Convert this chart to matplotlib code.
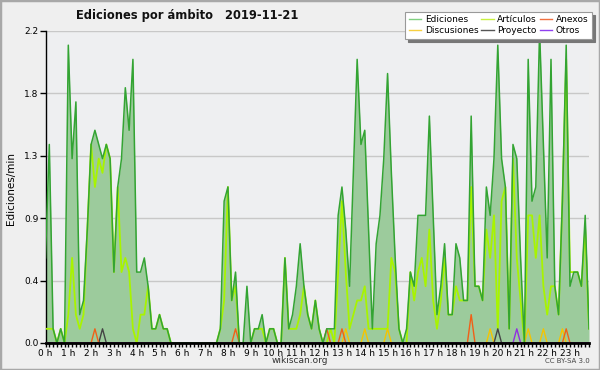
import numpy as np
import matplotlib
matplotlib.use("Agg")
import matplotlib.pyplot as plt
from matplotlib.patches import Rectangle
from matplotlib.lines import Line2D
from matplotlib.ticker import FixedLocator, MultipleLocator

# 10-minute bins, edits per minute
ediciones = [0.6, 1.4, 0.1, 0, 0.1, 0, 2.1, 1.3, 1.7, 0.2, 0.3, 0.8,
             1.4, 1.5, 1.4, 1.3, 1.4, 1.3, 0.5, 1.1, 1.3, 1.8, 1.5, 2.0,
             0.5, 0.5, 0.6, 0.4, 0.1, 0.1, 0.2, 0.1, 0.1, 0, 0, 0,
             0, 0, 0, 0, 0, 0, 0, 0, 0, 0, 0.1, 1.0,
             1.1, 0.3, 0.5, 0, 0, 0.4, 0, 0.1, 0.1, 0.2, 0, 0.1,
             0.1, 0, 0, 0.6, 0.1, 0.2, 0.4, 0.7, 0.4, 0.2, 0.1, 0.3,
             0.1, 0, 0.1, 0.1, 0.1, 0.9, 1.1, 0.8, 0.4, 1.2, 2.0, 1.4,
             1.5, 0.8, 0.1, 0.7, 0.9, 1.3, 1.9, 1.2, 0.6, 0.1, 0, 0.1,
             0.5, 0.4, 0.9, 0.9, 0.9, 1.6, 0.9, 0.2, 0.4, 0.7, 0.2, 0.2,
             0.7, 0.6, 0.3, 0.3, 1.6, 0.4, 0.4, 0.3, 1.1, 0.9, 1.3, 2.1,
             1.3, 1.1, 0.1, 1.4, 1.3, 0.6, 0, 2.0, 1.0, 1.1, 2.2, 1.4,
             0.6, 2.0, 0.4, 0.2, 1.0, 2.1, 0.4, 0.5, 0.5, 0.4, 0.9, 0.1]

articulos = [0.1, 0.1, 0.1, 0, 0.1, 0, 0.2, 0.6, 0.2, 0.1, 0.2, 0.8,
             1.4, 1.1, 1.3, 1.2, 1.4, 1.3, 0.5, 1.1, 0.5, 0.6, 0.5, 0.1,
             0, 0.2, 0.2, 0.4, 0.1, 0.1, 0.2, 0.1, 0.1, 0, 0, 0,
             0, 0, 0, 0, 0, 0, 0, 0, 0, 0, 0.1, 0.3,
             1.1, 0.3, 0.4, 0, 0, 0, 0, 0.1, 0.1, 0.1, 0, 0.1,
             0.1, 0, 0, 0.6, 0.1, 0.1, 0.1, 0.2, 0.4, 0.2, 0.1, 0.3,
             0.1, 0, 0, 0.1, 0, 0.5, 1.0, 0.5, 0.1, 0.2, 0.3, 0.3,
             0.4, 0.1, 0.1, 0.1, 0.1, 0.1, 0.1, 0.6, 0.5, 0.1, 0, 0,
             0.5, 0.3, 0.5, 0.6, 0.4, 0.8, 0.3, 0.1, 0.3, 0.6, 0.2, 0.2,
             0.4, 0.3, 0.3, 0.3, 1.1, 0.4, 0.4, 0.3, 0.8, 0.6, 0.9, 0.1,
             1.0, 1.1, 0.1, 1.3, 0.6, 0.3, 0, 0.9, 0.9, 0.6, 0.9, 0.4,
             0.2, 0.4, 0.4, 0.2, 1.0, 2.0, 0.5, 0.5, 0.5, 0.4, 0.8, 0.1]

# sparse small series: (bin index -> value)
discusiones_pts = {79: 0.1, 84: 0.1, 90: 0.1, 117: 0.1, 127: 0.1, 131: 0.1, 136: 0.1}
anexos_pts = {13: 0.1, 50: 0.1, 74: 0.1, 78: 0.1, 112: 0.2, 137: 0.1}
proyecto_pts = {15: 0.1, 119: 0.1}
otros_pts = {124: 0.1}

hour_labels = [f"{h} h" for h in range(24)]
y_ticks = [0, 0.44, 0.88, 1.32, 1.76, 2.2]

n = len(ediciones)
x = np.arange(n) / 6.0

def dense(pts):
    arr = np.zeros(n)
    for k, v in pts.items():
        arr[k] = v
    return arr

discusiones = dense(discusiones_pts)
anexos = dense(anexos_pts)
proyecto = dense(proyecto_pts)
otros = dense(otros_pts)

BG = "#efefef"
fig = plt.figure(figsize=(6, 3.7), dpi=100, facecolor=BG)
fig.patches.append(Rectangle((0, 0), 1, 1, transform=fig.transFigure,
                             fill=False, edgecolor="#a8a8a8", linewidth=2.5))
ax = fig.add_axes([45.5 / 600, 1 - 343 / 370, (589 - 45.5) / 600, 312 / 370])
ax.set_facecolor("#eeeff1")

ax.fill_between(x, ediciones, 0, color="#9ccb9c", linewidth=0, zorder=2)
l_ed, = ax.plot(x, ediciones, color="#33a433", lw=1.1, zorder=5)
l_ar, = ax.plot(x, articulos, color="#a8f400", lw=1.3, zorder=4)
l_di, = ax.plot(x, discusiones, color="#f5c400", lw=1.0, zorder=4)
l_pr, = ax.plot(x, proyecto, color="#444444", lw=1.0, zorder=4)
l_an, = ax.plot(x, anexos, color="#f06018", lw=1.0, zorder=4)
l_ot, = ax.plot(x, otros, color="#9030e0", lw=1.0, zorder=4)

ax.set_xlim(0, x[-1])
ax.set_ylim(0, 2.2)
ax.yaxis.set_major_locator(FixedLocator(y_ticks))
ax.set_yticklabels([f"{v:.1f}" for v in y_ticks])
ax.xaxis.set_major_locator(FixedLocator(range(24)))
ax.set_xticklabels(hour_labels)
ax.xaxis.set_minor_locator(MultipleLocator(1 / 6))
ax.grid(axis="y", color="#c8c8c8", lw=1, zorder=1)
ax.set_axisbelow(True)
for s in ("top", "right"):
    ax.spines[s].set_visible(False)
ax.spines["bottom"].set_linewidth(2)
ax.spines["left"].set_linewidth(1)
ax.spines["bottom"].set_zorder(10)
ax.tick_params(axis="x", which="both", length=3, width=1, pad=1, labelsize=6.5, color="black")
ax.tick_params(axis="y", length=4, width=1, pad=1, labelsize=6.5)

fig.text(0.312, 0.958, "Ediciones por ámbito   2019-11-21", ha="center", va="center",
         fontsize=8.3, fontweight="bold", color="#111111")
fig.text(0.018, 0.49, "Ediciones/min", rotation=90, ha="center", va="center", fontsize=7.5)
fig.text(0.5, 0.025, "wikiscan.org", ha="center", va="center", fontsize=6.5, color="#333333")
fig.text(0.983, 0.025, "CC BY-SA 3.0", ha="right", va="center", fontsize=5, color="#444444")

labels = ["Ediciones", "Discusiones", "Artículos", "Proyecto", "Anexos", "Otros"]
leg_colors = ["#80d080", "#f8d040", "#c8f040", "#555555", "#f07040", "#9040f0"]
proxies = [Line2D([], [], color=c, lw=1) for c in leg_colors]
leg = fig.legend(proxies, labels, ncol=3, loc="upper right",
                 bbox_to_anchor=(0.987, 0.968), fontsize=6.5, frameon=True,
                 fancybox=False, shadow={"color": "#777777", "alpha": 1},
                 handlelength=1.4, handletextpad=0.4, columnspacing=0.3,
                 labelspacing=0.2, borderpad=0.4, borderaxespad=0)
leg.get_frame().set_edgecolor("#999999")
leg.get_frame().set_linewidth(0.8)

fig.savefig("out.png", dpi=100, facecolor=BG)
